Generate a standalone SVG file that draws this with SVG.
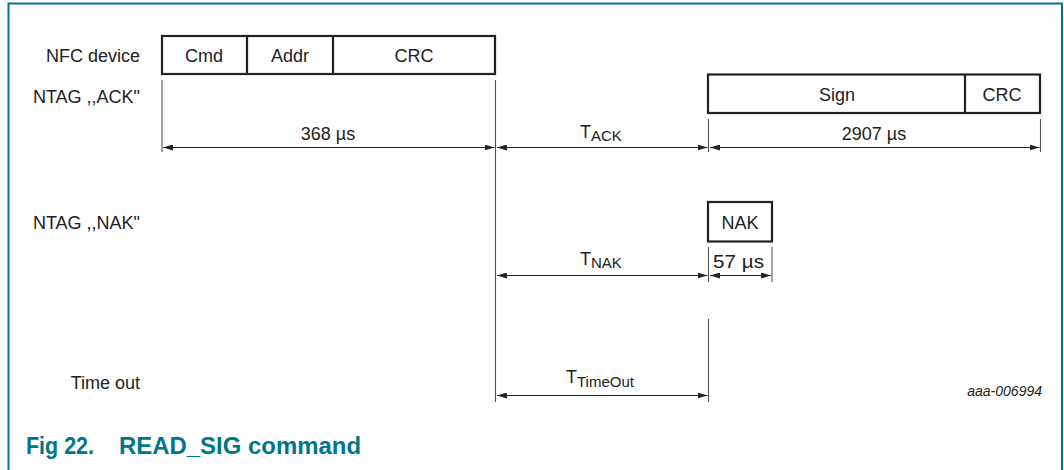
<svg xmlns="http://www.w3.org/2000/svg" width="1064" height="470" viewBox="0 0 1064 470">
<defs>
<style>
.t{font-family:"Liberation Sans",Arial,sans-serif;font-size:18px;fill:#222}
.c{text-anchor:middle}
.e{text-anchor:end}
.sub{font-size:15px}
.box{fill:#fff;stroke:#222;stroke-width:2.2}
.tick{stroke:#555;stroke-width:1.1;fill:none}
.dim{stroke:#222;stroke-width:1.2;fill:none;marker-start:url(#ah);marker-end:url(#ah)}
.cap{font-family:"Liberation Sans",Arial,sans-serif;font-weight:bold;font-size:24px;fill:#00758a}
</style>
<marker id="ah" viewBox="0 0 10 6" refX="10" refY="3" markerWidth="10" markerHeight="6" markerUnits="userSpaceOnUse" orient="auto-start-reverse">
<path d="M0,0 L10,3 L0,6 z" fill="#222"/>
</marker>
</defs>
<rect width="1064" height="470" fill="#fff"/>
<path d="M8.5,472 V3.5 H1062 V472" fill="none" stroke="#00758a" stroke-width="2"/>

<g id="labels">
<text class="t e" x="140" y="62">NFC device</text>
<text class="t e" x="140" y="103">NTAG ,,ACK"</text>
<text class="t e" x="140" y="229">NTAG ,,NAK"</text>
<text class="t e" x="140" y="389">Time out</text>
</g>

<g id="nfc-frame">
<rect class="box" x="162" y="36" width="333" height="38"/>
<line class="box" x1="247" y1="36" x2="247" y2="74"/>
<line class="box" x1="333" y1="36" x2="333" y2="74"/>
<text class="t c" x="204" y="62">Cmd</text>
<text class="t c" x="290" y="62">Addr</text>
<text class="t c" x="414" y="62">CRC</text>
</g>

<g id="ack-frame">
<rect class="box" x="708" y="74.5" width="332" height="38.5"/>
<line class="box" x1="965" y1="74.5" x2="965" y2="113"/>
<text class="t c" x="837" y="101">Sign</text>
<text class="t c" x="1002" y="101">CRC</text>
</g>

<g id="nak-frame">
<rect class="box" x="708" y="202" width="64" height="39.5"/>
<text class="t c" x="740" y="229">NAK</text>
</g>

<g id="connectors">
<line class="tick" x1="162" y1="80" x2="162" y2="152"/>
<line class="tick" x1="495.5" y1="80" x2="495.5" y2="402"/>
<line class="tick" x1="708.5" y1="119" x2="708.5" y2="152"/>
<line class="tick" x1="1040.5" y1="119" x2="1040.5" y2="152"/>
<line class="tick" x1="708.5" y1="247" x2="708.5" y2="282"/>
<line class="tick" x1="772" y1="247" x2="772" y2="282"/>
<line class="tick" x1="708.5" y1="319" x2="708.5" y2="402"/>
<line class="dim" x1="163" y1="147.5" x2="494.5" y2="147.5"/>
<line class="dim" x1="497" y1="147.5" x2="707.5" y2="147.5"/>
<line class="dim" x1="710" y1="147.5" x2="1039.5" y2="147.5"/>
<line class="dim" x1="497" y1="275.5" x2="707.5" y2="275.5"/>
<line class="dim" x1="710" y1="275.5" x2="771" y2="275.5"/>
<line class="dim" x1="497" y1="395.5" x2="707.5" y2="395.5"/>
</g>

<g id="dimension-labels">
<text class="t c" x="328" y="140">368 µs</text>
<text class="t" x="580" y="138">T<tspan class="sub" dy="3">ACK</tspan></text>
<text class="t c" x="874" y="140">2907 µs</text>
<text class="t" x="580" y="265">T<tspan class="sub" dy="3">NAK</tspan></text>
<text class="t" x="713" y="268" font-size="16" textLength="51" lengthAdjust="spacingAndGlyphs">57 µs</text>
<text class="t" x="566" y="383">T<tspan class="sub" dy="4">TimeOut</tspan></text>
</g>

<text x="1042" y="396" font-family="Liberation Sans, Arial, sans-serif" font-style="italic" font-size="14" fill="#222" text-anchor="end">aaa-006994</text>

<text class="cap" x="26" y="454" textLength="68" lengthAdjust="spacingAndGlyphs">Fig 22.</text>
<text class="cap" x="119" y="454" textLength="242" lengthAdjust="spacingAndGlyphs">READ_SIG command</text>
</svg>
